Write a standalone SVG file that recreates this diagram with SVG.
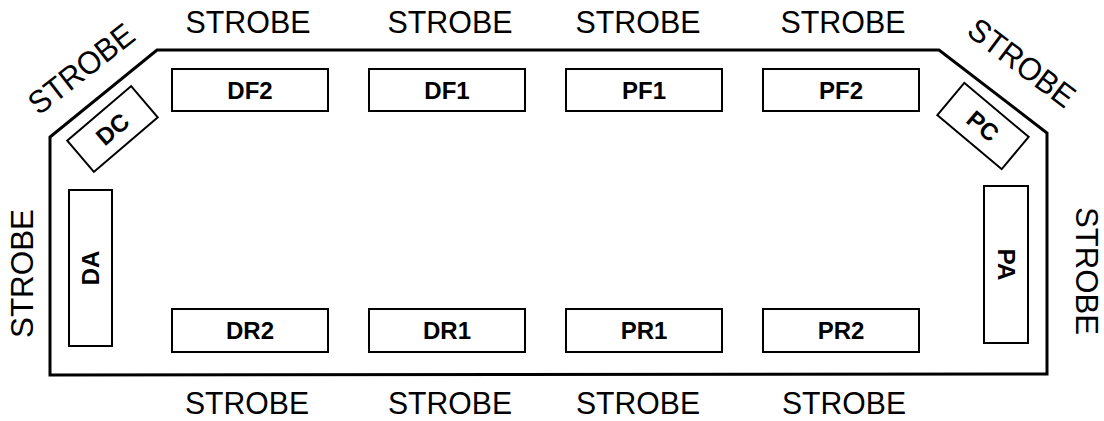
<svg xmlns="http://www.w3.org/2000/svg" width="1104" height="421" viewBox="0 0 1104 421">
<style>
.box{fill:#fff;stroke:#000;stroke-width:2}
.lbl{font-family:"Liberation Sans",Arial,sans-serif;font-weight:bold;font-size:24px;text-anchor:middle;fill:#000}
.st{font-family:"Liberation Sans",Arial,sans-serif;font-size:32px;text-anchor:middle;fill:#000}
.outline{fill:none;stroke:#000;stroke-width:3;stroke-linejoin:miter}
</style>
<rect width="1104" height="421" fill="#fff"/>
<g id="outline">
<polygon class="outline" points="157,50 939,50 1047,133 1047,374 50,375 50,137"/>
</g>
<g id="strobe-labels">
<text class="st" x="248" y="33" textLength="125" lengthAdjust="spacingAndGlyphs">STROBE</text>
<text class="st" x="450" y="33" textLength="125" lengthAdjust="spacingAndGlyphs">STROBE</text>
<text class="st" x="638" y="33" textLength="125" lengthAdjust="spacingAndGlyphs">STROBE</text>
<text class="st" x="843" y="33" textLength="125" lengthAdjust="spacingAndGlyphs">STROBE</text>
<text class="st" x="247" y="414" textLength="124" lengthAdjust="spacingAndGlyphs">STROBE</text>
<text class="st" x="450" y="414" textLength="124" lengthAdjust="spacingAndGlyphs">STROBE</text>
<text class="st" x="638" y="414" textLength="124" lengthAdjust="spacingAndGlyphs">STROBE</text>
<text class="st" x="844" y="414" textLength="124" lengthAdjust="spacingAndGlyphs">STROBE</text>
<text class="st" transform="translate(21.5,273.5) rotate(-90)" x="0" y="11.5" textLength="129" lengthAdjust="spacingAndGlyphs">STROBE</text>
<text class="st" transform="translate(1087.5,271) rotate(90)" x="0" y="11.5" textLength="128" lengthAdjust="spacingAndGlyphs">STROBE</text>
<text class="st" transform="translate(81,68.5) rotate(-38)" x="0" y="11.5" textLength="125" lengthAdjust="spacingAndGlyphs">STROBE</text>
<text class="st" transform="translate(1022,62.5) rotate(37)" x="0" y="11.5" textLength="125" lengthAdjust="spacingAndGlyphs">STROBE</text>
</g>
<g id="DF2"><rect class="box" x="172" y="69" width="156" height="42"/><text class="lbl" x="250" y="98.5">DF2</text></g>
<g id="DF1"><rect class="box" x="369" y="69" width="156" height="42"/><text class="lbl" x="447" y="98.5">DF1</text></g>
<g id="PF1"><rect class="box" x="566" y="69" width="156" height="42"/><text class="lbl" x="644" y="98.5">PF1</text></g>
<g id="PF2"><rect class="box" x="763" y="69" width="156" height="42"/><text class="lbl" x="841" y="98.5">PF2</text></g>
<g id="DR2"><rect class="box" x="172" y="309" width="156" height="43"/><text class="lbl" x="250" y="339">DR2</text></g>
<g id="DR1"><rect class="box" x="369" y="309" width="156" height="43"/><text class="lbl" x="447" y="339">DR1</text></g>
<g id="PR1"><rect class="box" x="566" y="309" width="156" height="43"/><text class="lbl" x="644" y="339">PR1</text></g>
<g id="PR2"><rect class="box" x="763" y="309" width="156" height="43"/><text class="lbl" x="841" y="339">PR2</text></g>
<g id="DC" transform="translate(112.5,129) rotate(-40.5)"><rect class="box" x="-42" y="-20.5" width="84" height="41"/><text class="lbl" x="0" y="8.5">DC</text></g>
<g id="PC" transform="translate(983,126) rotate(40)"><rect class="box" x="-42" y="-21" width="84" height="42"/><text class="lbl" x="0" y="8.5">PC</text></g>
<g id="DA" transform="translate(90.5,268) rotate(-90)"><rect class="box" x="-78" y="-21.5" width="156" height="43"/><text class="lbl" x="0" y="8.5">DA</text></g>
<g id="PA" transform="translate(1006,264.5) rotate(90)"><rect class="box" x="-78.5" y="-22" width="157" height="44"/><text class="lbl" x="0" y="8.5">PA</text></g>
</svg>
